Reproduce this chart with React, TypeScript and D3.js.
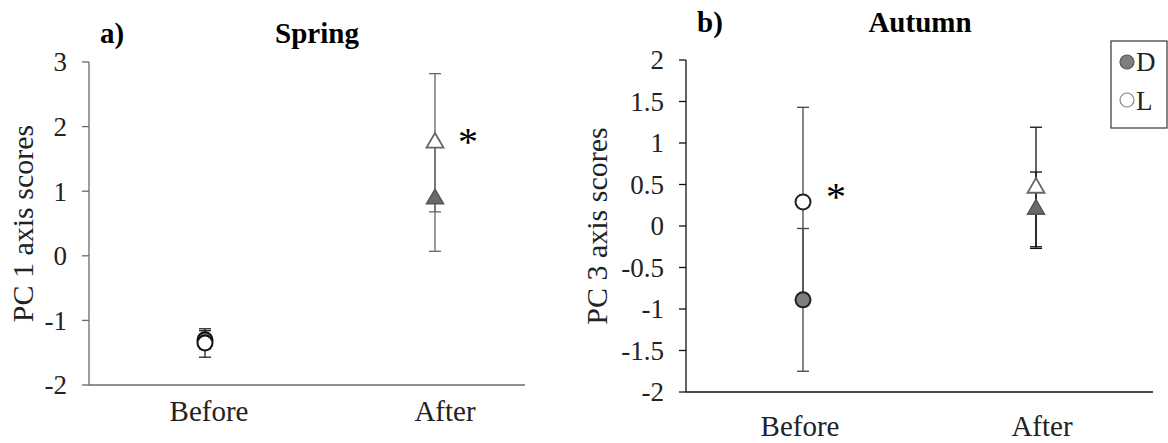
import React from "react";
import * as d3 from "d3";

const categories = ["Before", "After"];

// Spring (PC 1)
const springD = [-1.3, 0.88];
const springDErr = [0.14, 0.81];
const springL = [-1.35, 1.75];
const springLErr = [0.22, 1.07];
const springTicks = [-2, -1, 0, 1, 2, 3];
const springSig = [false, true];

// Autumn (PC 3)
const autumnD = [-0.89, 0.2];
const autumnDErr = [0.86, 0.45];
const autumnL = [0.29, 0.46];
const autumnLErr = [1.14, 0.73];
const autumnTicks = [-2, -1.5, -1, -0.5, 0, 0.5, 1, 1.5, 2];
const autumnSig = [true, false];

const legendItems = ["D", "L"];

const FONT = '"Liberation Serif", "Times New Roman", serif';

type PanelProps = {
  letter: string;
  title: string;
  yLabel: string;
  ticks: number[];
  dVals: number[];
  dErr: number[];
  lVals: number[];
  lErr: number[];
  sig: boolean[];
  x0: number;
  x1: number;
  yTop: number;
  yBot: number;
  catStart: number;
  catEnd: number;
  axisColor: string;
  errColors: string[];
  letterX: number;
  titleX: number;
  titleY: number;
  yLabelX: number;
  catLabelY: number;
  catLabelDx: number[];
  circleStroke: string;
  starDy: number;
};

function Panel(p: PanelProps) {
  const y = d3
    .scaleLinear()
    .domain([p.ticks[0], p.ticks[p.ticks.length - 1]])
    .range([p.yBot, p.yTop]);
  const x = d3.scalePoint<string>().domain(categories).range([p.catStart, p.catEnd]);
  const tri = d3.symbol().type(d3.symbolTriangle).size(125)()!;
  const cap = 6;

  const errBar = (cx: number, v: number, e: number, color: string, key: string) => (
    <g key={key} stroke={color} strokeWidth={1.3}>
      <line x1={cx} x2={cx} y1={y(v + e)} y2={y(v - e)} />
      <line x1={cx - cap} x2={cx + cap} y1={y(v + e)} y2={y(v + e)} />
      <line x1={cx - cap} x2={cx + cap} y1={y(v - e)} y2={y(v - e)} />
    </g>
  );

  return (
    <g fontFamily={FONT}>
      <text x={p.letterX} y={p.titleY} fontSize={29} fontWeight="bold">{p.letter}</text>
      <text x={p.titleX} y={p.titleY} fontSize={29} fontWeight="bold" textAnchor="middle">{p.title}</text>
      <text
        transform={`translate(${p.yLabelX},${(p.yTop + p.yBot) / 2}) rotate(-90)`}
        fontSize={30}
        textAnchor="middle"
        fill="#222"
      >
        {p.yLabel}
      </text>
      {/* axes */}
      <line x1={p.x0} x2={p.x0} y1={p.yTop} y2={p.yBot} stroke={p.axisColor} strokeWidth={1.3} />
      <line x1={p.x0} x2={p.x1} y1={p.yBot} y2={p.yBot} stroke={p.axisColor} strokeWidth={1.3} />
      {p.ticks.map((t) => (
        <g key={t}>
          <line x1={p.x0 - 7} x2={p.x0} y1={y(t)} y2={y(t)} stroke={p.axisColor} strokeWidth={1.3} />
          <text x={p.x0 - 22} y={y(t)} dy="0.35em" fontSize={27} textAnchor="end" fill="#222">
            {String(t)}
          </text>
        </g>
      ))}
      {categories.map((c, i) => (
        <text key={c} x={(x(c) as number) + p.catLabelDx[i]} y={p.catLabelY} fontSize={29} textAnchor="middle" fill="#222">
          {c}
        </text>
      ))}
      {/* error bars */}
      {categories.map((c, i) => (
        <g key={"e" + c}>
          {errBar(x(c) as number, p.dVals[i], p.dErr[i], p.errColors[i], "d")}
          {errBar(x(c) as number, p.lVals[i], p.lErr[i], p.errColors[i], "l")}
        </g>
      ))}
      {/* markers */}
      {categories.map((c, i) => {
        const cx = x(c) as number;
        if (i === 0) {
          return (
            <g key={"m" + c}>
              <circle cx={cx} cy={y(p.dVals[i])} r={7.5} fill="#7f7f7f" stroke={p.circleStroke} strokeWidth={2} />
              <circle cx={cx} cy={y(p.lVals[i])} r={7.5} fill="#fff" stroke={p.circleStroke} strokeWidth={2} />
            </g>
          );
        }
        return (
          <g key={"m" + c}>
            <path d={tri} transform={`translate(${cx},${y(p.dVals[i])})`} fill="#6a6a6a" stroke="#555" strokeWidth={1.5} />
            <path d={tri} transform={`translate(${cx},${y(p.lVals[i])})`} fill="#fff" stroke="#666" strokeWidth={1.8} />
          </g>
        );
      })}
      {categories.map((c, i) =>
        p.sig[i] ? (
          <text key={"s" + c} x={(x(c) as number) + 33} y={y(p.lVals[i]) + p.starDy} fontSize={40} textAnchor="middle">
            *
          </text>
        ) : null
      )}
    </g>
  );
}

export default function App() {
  return (
    <svg
      width={1168}
      height={443}
      style={{ position: "absolute", left: 0, top: 0, background: "#fff" }}
    >
      <rect width={1168} height={443} fill="#fff" />
      <Panel
        letter="a)"
        title="Spring"
        yLabel="PC 1 axis scores"
        ticks={springTicks}
        dVals={springD}
        dErr={springDErr}
        lVals={springL}
        lErr={springLErr}
        sig={springSig}
        x0={89}
        x1={525}
        yTop={62}
        yBot={385}
        catStart={205}
        catEnd={435}
        axisColor="#6a6a6a"
        errColors={["#222", "#666"]}
        letterX={100}
        titleX={317}
        titleY={43}
        yLabelX={33}
        catLabelY={421}
        catLabelDx={[4, 10]}
        circleStroke="#111"
        starDy={12}
      />
      <Panel
        letter="b)"
        title="Autumn"
        yLabel="PC 3 axis scores"
        ticks={autumnTicks}
        dVals={autumnD}
        dErr={autumnDErr}
        lVals={autumnL}
        lErr={autumnLErr}
        sig={autumnSig}
        x0={686}
        x1={1153}
        yTop={60}
        yBot={392}
        catStart={803}
        catEnd={1036}
        axisColor="#111"
        errColors={["#444", "#111"]}
        letterX={697}
        titleX={920}
        titleY={32}
        yLabelX={607}
        catLabelY={436}
        catLabelDx={[-3, 6]}
        circleStroke="#222"
        starDy={8}
      />
      {/* legend */}
      <g fontFamily={FONT}>
        <rect x={1111} y={41} width={56} height={87} fill="#fff" stroke="#444" strokeWidth={1.3} />
        {legendItems.map((k, i) => (
          <g key={k}>
            <circle
              cx={1127}
              cy={62 + i * 38}
              r={7}
              fill={i === 0 ? "#7f7f7f" : "#fff"}
              stroke={i === 0 ? "#555" : "#888"}
              strokeWidth={1.2}
            />
            <text x={1136} y={71 + i * 39} fontSize={27} fill="#222">
              {k}
            </text>
          </g>
        ))}
      </g>
    </svg>
  );
}
